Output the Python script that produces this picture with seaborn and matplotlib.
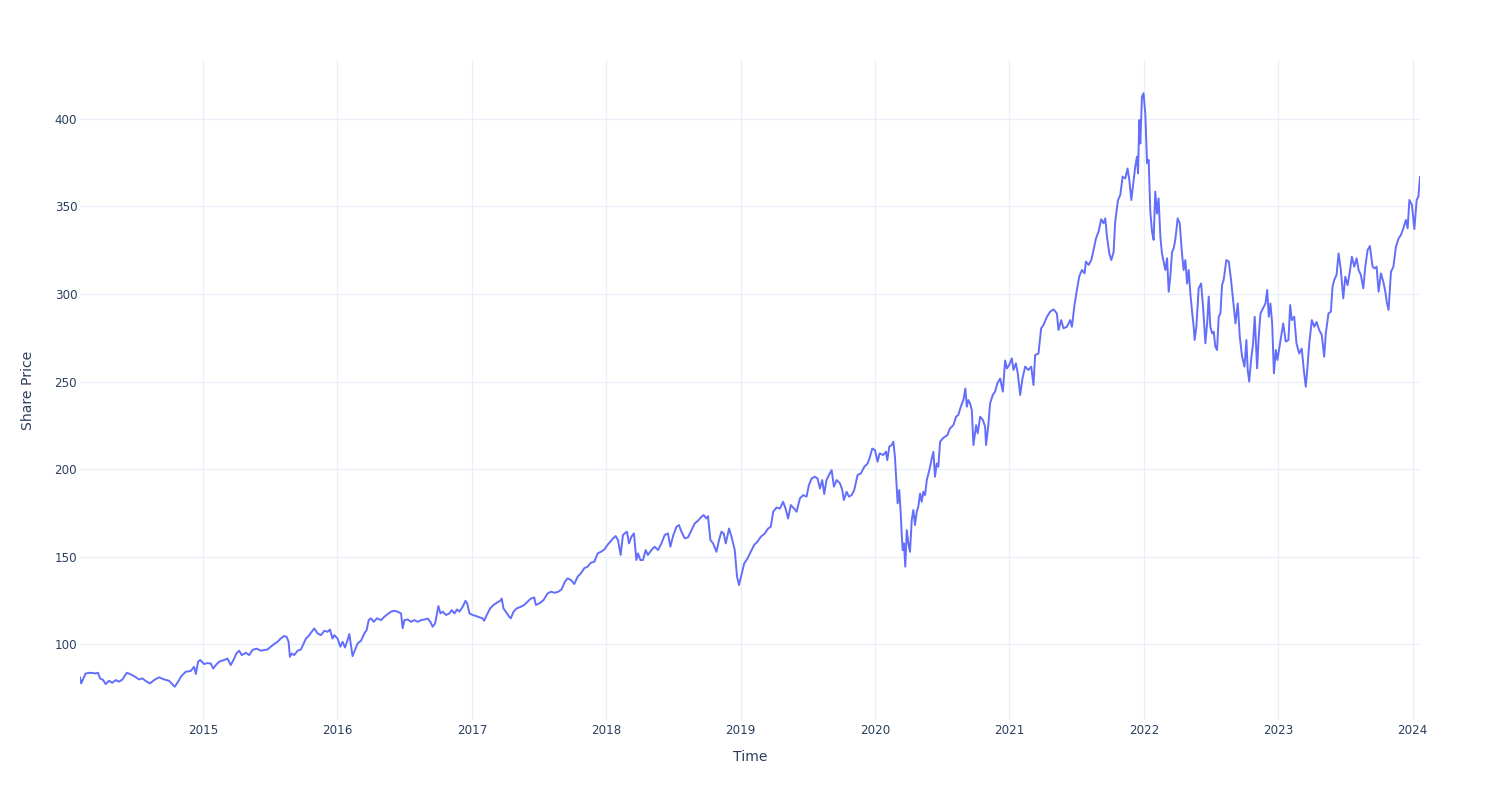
import matplotlib
matplotlib.use("Agg")
import matplotlib.pyplot as plt
import seaborn as sns
import pandas as pd

# Time in decimal years
time_years = [
    2014.084, 2014.093, 2014.126, 2014.163, 2014.201, 2014.218, 2014.233, 2014.257, 2014.275, 2014.300,
    2014.324, 2014.350, 2014.374, 2014.399, 2014.432, 2014.461, 2014.486, 2014.523, 2014.548, 2014.573,
    2014.605, 2014.635, 2014.672, 2014.709, 2014.747, 2014.771, 2014.789, 2014.814, 2014.838, 2014.871,
    2014.908, 2014.933, 2014.946, 2014.963, 2014.978, 2015.007, 2015.032, 2015.057, 2015.075, 2015.095,
    2015.119, 2015.156, 2015.181, 2015.206, 2015.231, 2015.248, 2015.268, 2015.288, 2015.318, 2015.343,
    2015.367, 2015.397, 2015.430, 2015.454, 2015.479, 2015.504, 2015.529, 2015.554, 2015.579, 2015.603,
    2015.621, 2015.636, 2015.646, 2015.661, 2015.678, 2015.703, 2015.728, 2015.765, 2015.785, 2015.827,
    2015.852, 2015.877, 2015.902, 2015.926, 2015.944, 2015.963, 2015.976, 2016.001, 2016.021, 2016.038,
    2016.056, 2016.075, 2016.088, 2016.100, 2016.112, 2016.130, 2016.150, 2016.175, 2016.200, 2016.217,
    2016.232, 2016.249, 2016.269, 2016.294, 2016.324, 2016.349, 2016.373, 2016.398, 2016.423, 2016.448,
    2016.473, 2016.485, 2016.498, 2016.522, 2016.548, 2016.572, 2016.597, 2016.622, 2016.647, 2016.671,
    2016.691, 2016.708, 2016.726, 2016.751, 2016.766, 2016.783, 2016.808, 2016.833, 2016.850, 2016.870,
    2016.890, 2016.907, 2016.932, 2016.952, 2016.965, 2016.982, 2017.006, 2017.032, 2017.056, 2017.079,
    2017.091, 2017.111, 2017.136, 2017.161, 2017.185, 2017.211, 2017.222, 2017.235, 2017.252, 2017.278,
    2017.290, 2017.310, 2017.334, 2017.364, 2017.389, 2017.414, 2017.439, 2017.464, 2017.476, 2017.501,
    2017.533, 2017.563, 2017.588, 2017.617, 2017.643, 2017.667, 2017.692, 2017.712, 2017.737, 2017.762,
    2017.787, 2017.811, 2017.836, 2017.861, 2017.886, 2017.911, 2017.936, 2017.960, 2017.985, 2018.008,
    2018.030, 2018.050, 2018.070, 2018.087, 2018.107, 2018.124, 2018.137, 2018.154, 2018.169, 2018.187,
    2018.206, 2018.224, 2018.236, 2018.254, 2018.273, 2018.293, 2018.310, 2018.336, 2018.360, 2018.385,
    2018.410, 2018.435, 2018.459, 2018.477, 2018.497, 2018.522, 2018.541, 2018.559, 2018.584, 2018.608,
    2018.634, 2018.658, 2018.683, 2018.708, 2018.725, 2018.745, 2018.757, 2018.775, 2018.795, 2018.820,
    2018.839, 2018.857, 2018.874, 2018.889, 2018.914, 2018.932, 2018.956, 2018.973, 2018.988, 2019.006,
    2019.026, 2019.051, 2019.075, 2019.100, 2019.125, 2019.150, 2019.180, 2019.204, 2019.224, 2019.242,
    2019.267, 2019.292, 2019.316, 2019.334, 2019.353, 2019.373, 2019.398, 2019.416, 2019.441, 2019.465,
    2019.490, 2019.508, 2019.528, 2019.552, 2019.572, 2019.590, 2019.607, 2019.622, 2019.639, 2019.657,
    2019.677, 2019.694, 2019.714, 2019.739, 2019.756, 2019.768, 2019.788, 2019.806, 2019.826, 2019.845,
    2019.870, 2019.895, 2019.920, 2019.945, 2019.962, 2019.979, 2019.999, 2020.019, 2020.034, 2020.061,
    2020.081, 2020.091, 2020.106, 2020.124, 2020.136, 2020.148, 2020.161, 2020.168, 2020.180, 2020.191,
    2020.198, 2020.206, 2020.215, 2020.225, 2020.236, 2020.248, 2020.260, 2020.273, 2020.285, 2020.297,
    2020.310, 2020.322, 2020.335, 2020.347, 2020.359, 2020.372, 2020.385, 2020.404, 2020.422, 2020.434,
    2020.446, 2020.459, 2020.471, 2020.484, 2020.504, 2020.521, 2020.538, 2020.558, 2020.583, 2020.603,
    2020.620, 2020.638, 2020.657, 2020.672, 2020.683, 2020.694, 2020.707, 2020.720, 2020.732, 2020.752,
    2020.764, 2020.782, 2020.802, 2020.819, 2020.826, 2020.843, 2020.856, 2020.876, 2020.893, 2020.910,
    2020.931, 2020.951, 2020.968, 2020.981, 2020.998, 2021.018, 2021.030, 2021.048, 2021.062, 2021.080,
    2021.097, 2021.117, 2021.141, 2021.162, 2021.179, 2021.191, 2021.216, 2021.236, 2021.253, 2021.279,
    2021.303, 2021.328, 2021.353, 2021.365, 2021.385, 2021.402, 2021.428, 2021.452, 2021.465, 2021.484,
    2021.502, 2021.519, 2021.539, 2021.559, 2021.569, 2021.589, 2021.609, 2021.626, 2021.644, 2021.663,
    2021.683, 2021.700, 2021.713, 2021.726, 2021.743, 2021.758, 2021.775, 2021.787, 2021.808, 2021.825,
    2021.842, 2021.862, 2021.879, 2021.892, 2021.907, 2021.924, 2021.936, 2021.949, 2021.957, 2021.966,
    2021.974, 2021.986, 2021.998, 2022.011, 2022.024, 2022.036, 2022.048, 2022.061, 2022.073, 2022.085,
    2022.098, 2022.110, 2022.123, 2022.135, 2022.147, 2022.160, 2022.173, 2022.185, 2022.197, 2022.210,
    2022.222, 2022.234, 2022.252, 2022.267, 2022.284, 2022.296, 2022.309, 2022.322, 2022.334, 2022.346,
    2022.359, 2022.371, 2022.378, 2022.391, 2022.408, 2022.426, 2022.441, 2022.458, 2022.471, 2022.483,
    2022.495, 2022.508, 2022.520, 2022.532, 2022.545, 2022.557, 2022.570, 2022.582, 2022.594, 2022.614,
    2022.632, 2022.649, 2022.664, 2022.682, 2022.699, 2022.714, 2022.731, 2022.749, 2022.763, 2022.773,
    2022.784, 2022.798, 2022.813, 2022.825, 2022.843, 2022.855, 2022.868, 2022.892, 2022.905, 2022.918,
    2022.930, 2022.942, 2022.955, 2022.968, 2022.982, 2022.994, 2023.012, 2023.037, 2023.056, 2023.076,
    2023.089, 2023.101, 2023.119, 2023.136, 2023.156, 2023.175, 2023.193, 2023.205, 2023.218, 2023.231,
    2023.250, 2023.268, 2023.285, 2023.305, 2023.324, 2023.342, 2023.354, 2023.374, 2023.392, 2023.404,
    2023.417, 2023.434, 2023.449, 2023.466, 2023.484, 2023.499, 2023.516, 2023.533, 2023.548, 2023.566,
    2023.583, 2023.598, 2023.615, 2023.633, 2023.648, 2023.665, 2023.682, 2023.702, 2023.719, 2023.732,
    2023.747, 2023.764, 2023.782, 2023.797, 2023.807, 2023.821, 2023.839, 2023.857, 2023.876, 2023.896,
    2023.913, 2023.931, 2023.950, 2023.963, 2023.976, 2023.995, 2024.013, 2024.030, 2024.043, 2024.055,
]

share_price = [
    81.0, 77.5, 83.2, 83.6, 83.2, 83.6, 80.4, 79.4, 77.1, 79.0,
    77.9, 79.4, 78.5, 79.7, 83.6, 82.7, 81.7, 79.8, 80.4, 78.9,
    77.5, 79.4, 81.0, 79.8, 79.0, 77.1, 75.6, 78.5, 81.7, 84.2,
    84.6, 87.0, 82.9, 89.9, 90.9, 88.6, 89.1, 88.9, 86.0, 88.0,
    89.9, 90.9, 91.7, 88.0, 91.7, 94.6, 96.2, 93.7, 95.0, 93.7,
    96.6, 97.4, 96.2, 96.6, 96.9, 98.5, 100.0, 101.3, 103.3, 104.6,
    104.2, 101.3, 92.7, 94.6, 93.7, 96.2, 96.9, 103.1, 104.6, 108.9,
    106.1, 105.1, 107.6, 107.0, 108.3, 103.1, 105.1, 103.1, 98.5, 101.3,
    98.0, 102.3, 105.7, 99.4, 93.1, 96.6, 100.4, 101.9, 106.1, 108.0,
    113.7, 114.7, 112.7, 114.7, 113.7, 115.6, 117.1, 118.5, 119.0, 118.5,
    117.5, 109.0, 113.7, 114.0, 112.7, 113.7, 112.7, 113.7, 114.0, 114.6,
    112.7, 109.9, 111.7, 121.7, 117.5, 118.5, 116.6, 117.5, 119.4, 117.5,
    119.8, 118.5, 121.3, 124.7, 123.2, 117.5, 116.6, 116.0, 115.3, 114.7,
    113.3, 116.6, 120.4, 122.3, 123.6, 124.7, 126.0, 120.4, 118.5, 115.6,
    114.7, 118.5, 120.4, 121.3, 122.3, 124.2, 126.0, 126.6, 122.3, 123.2,
    125.1, 128.9, 129.9, 129.3, 129.9, 131.2, 135.6, 137.5, 136.6, 134.3,
    138.5, 140.4, 143.3, 144.2, 146.5, 147.0, 151.8, 152.7, 154.0, 156.5,
    158.5, 160.3, 161.7, 159.4, 150.9, 162.3, 163.2, 164.2, 157.5, 161.3,
    163.2, 148.0, 151.8, 148.0, 148.0, 153.7, 150.9, 153.7, 155.6, 153.7,
    157.5, 162.3, 163.2, 155.6, 161.7, 167.0, 168.0, 164.2, 160.4, 160.9,
    165.1, 168.9, 170.5, 172.7, 173.7, 171.7, 173.1, 159.4, 157.5, 152.7,
    159.4, 164.2, 163.2, 157.5, 166.0, 161.3, 153.7, 138.5, 133.7, 139.4,
    146.0, 148.9, 152.7, 156.6, 158.5, 161.3, 163.2, 166.0, 167.0, 175.6,
    178.0, 177.4, 181.3, 177.4, 171.7, 179.4, 177.4, 175.6, 183.2, 185.1,
    184.2, 190.9, 194.6, 195.6, 194.6, 188.9, 193.7, 185.7, 193.7, 196.6,
    199.4, 189.9, 193.7, 191.8, 188.0, 182.3, 187.0, 184.2, 185.1, 188.0,
    196.6, 197.5, 201.3, 203.2, 206.9, 211.7, 210.9, 204.2, 208.9, 208.0,
    209.9, 205.1, 212.8, 213.7, 215.6, 206.9, 189.9, 180.4, 188.0, 174.7,
    163.2, 153.7, 157.5, 144.2, 165.1, 157.5, 152.7, 170.9, 176.6, 168.0,
    175.6, 178.5, 186.0, 181.3, 187.0, 185.1, 193.7, 199.4, 206.0, 209.9,
    195.6, 203.2, 201.3, 215.6, 217.5, 218.5, 219.4, 223.2, 225.1, 229.9,
    230.9, 235.6, 239.4, 246.0, 235.6, 239.4, 237.5, 233.7, 213.7, 225.1,
    220.4, 229.9, 228.0, 224.2, 213.7, 225.1, 237.5, 242.3, 244.2, 248.9,
    251.7, 244.2, 262.0, 257.5, 259.4, 263.2, 256.6, 260.4, 254.7, 242.3,
    251.7, 258.5, 256.6, 258.5, 248.0, 265.1, 266.0, 280.4, 282.3, 287.0,
    289.9, 291.2, 288.9, 279.4, 285.1, 280.4, 281.3, 285.1, 281.3, 293.7,
    302.3, 309.9, 313.7, 311.8, 318.5, 316.6, 319.4, 325.1, 331.8, 335.6,
    342.7, 340.4, 343.2, 332.7, 323.2, 319.4, 324.0, 341.3, 353.7, 356.6,
    367.0, 366.0, 371.7, 365.1, 353.7, 365.1, 372.7, 378.5, 368.9, 399.4,
    386.0, 412.7, 414.7, 403.0, 374.7, 376.6, 347.4, 335.6, 330.9, 358.5,
    346.0, 354.6, 332.7, 323.2, 318.5, 313.7, 320.4, 301.3, 309.9, 324.0,
    326.0, 330.9, 343.2, 340.4, 323.2, 313.7, 319.4, 306.0, 313.7, 300.4,
    289.9, 281.3, 273.7, 281.3, 303.2, 306.0, 292.7, 271.8, 283.2, 298.5,
    281.3, 277.5, 278.5, 269.9, 268.0, 287.0, 288.9, 305.1, 308.0, 319.4,
    318.5, 308.0, 296.6, 283.2, 294.6, 275.6, 264.2, 258.5, 273.7, 256.6,
    250.0, 262.3, 271.8, 287.0, 257.5, 275.6, 288.9, 292.6, 294.6, 302.3,
    287.0, 294.6, 283.2, 254.7, 268.0, 262.3, 270.9, 283.2, 272.8, 273.7,
    293.7, 285.1, 287.0, 271.8, 266.0, 268.8, 254.7, 247.0, 258.5, 271.8,
    285.1, 281.3, 284.0, 279.4, 276.6, 264.2, 277.4, 288.9, 289.9, 304.1,
    308.0, 310.9, 323.2, 313.7, 297.5, 309.9, 305.1, 312.7, 321.3, 315.6,
    320.4, 313.7, 310.9, 303.2, 315.6, 325.1, 327.4, 315.6, 314.6, 315.6,
    301.3, 311.8, 307.0, 301.3, 295.6, 290.9, 312.7, 315.6, 327.0, 331.8,
    333.7, 337.5, 342.3, 337.5, 353.7, 350.9, 337.1, 353.7, 355.6, 367.0,
]

year_ticks = [2015, 2016, 2017, 2018, 2019, 2020, 2021, 2022, 2023, 2024]
price_ticks = [100, 150, 200, 250, 300, 350, 400]

df = pd.DataFrame({"Time": time_years, "Share Price": share_price})

sns.set_theme(style="white")
plt.rcParams["font.family"] = ["DejaVu Sans"]

TEXT = "#2a3f5f"
GRID = "#EBF0F8"
LINE = "#636EFA"

fig = plt.figure(figsize=(15, 8), dpi=100)
ax = fig.add_axes([80 / 1500, 80 / 800, 1340 / 1500, 660 / 800])

sns.lineplot(data=df, x="Time", y="Share Price", ax=ax, color=LINE,
             linewidth=1.4, estimator=None, sort=False)

ax.set_xlim(min(time_years), max(time_years))
span = max(share_price) - min(share_price)
ax.set_ylim(min(share_price) - 0.056 * span, max(share_price) + 0.056 * span)

ax.set_xticks(year_ticks)
ax.set_xticklabels([str(y) for y in year_ticks])
ax.set_yticks(price_ticks)
ax.set_yticklabels([str(p) for p in price_ticks])

ax.grid(True, color=GRID, linewidth=1.0)
ax.set_axisbelow(True)
for s in ax.spines.values():
    s.set_visible(False)

ax.tick_params(axis="both", length=0, labelsize=8.6, labelcolor=TEXT)
ax.tick_params(axis="x", pad=3)
ax.tick_params(axis="y", pad=2)

ax.set_xlabel("Time", fontsize=10.1, color=TEXT, labelpad=9)
ax.set_ylabel("Share Price", fontsize=10.1, color=TEXT, labelpad=14)

fig.savefig("out.png", dpi=100, facecolor="white")
